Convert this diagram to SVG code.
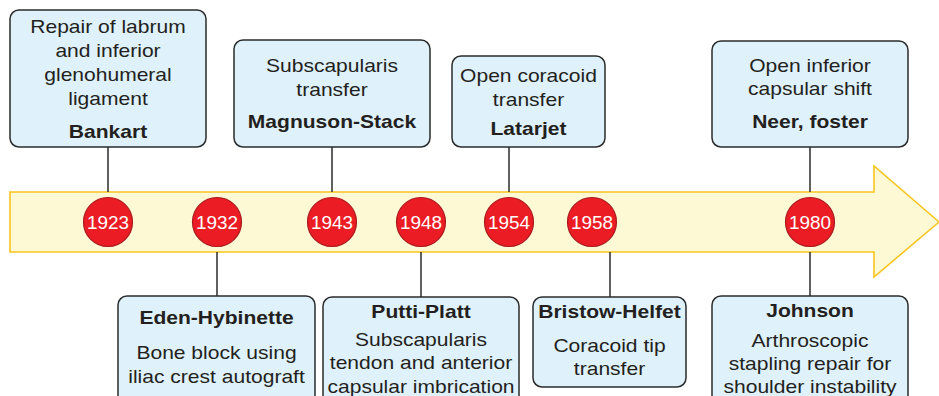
<svg xmlns="http://www.w3.org/2000/svg" width="939" height="396" viewBox="0 0 939 396">
<style>
.box{fill:#dff1fa;stroke:#2b2b2b;stroke-width:1.5}
.t{font-family:"Liberation Sans",Arial,sans-serif;font-size:18.8px;fill:#231f20;text-anchor:middle}
.b{font-weight:bold}
.c{fill:#ec1c24;stroke:#a81a1e;stroke-width:1.2}
.y{font-family:"Liberation Sans",Arial,sans-serif;font-size:18.2px;fill:#ffffff;text-anchor:middle}
.ln{stroke:#2b2b2b;stroke-width:1.5;fill:none}
</style>
<rect width="939" height="396" fill="#ffffff"/>
<g id="arrow">
<path d="M10,192 H874 V166 L939,222 L874,277 V252 H10 Z" fill="#fef9d5" stroke="#f8c51f" stroke-width="1.6"/>
</g>
<g id="connectors">
<line class="ln" x1="108" y1="147" x2="108" y2="192"/>
<line class="ln" x1="217" y1="252" x2="217" y2="296"/>
<line class="ln" x1="332" y1="147" x2="332" y2="192"/>
<line class="ln" x1="421" y1="252" x2="421" y2="297"/>
<line class="ln" x1="509" y1="147" x2="509" y2="192"/>
<line class="ln" x1="610" y1="252" x2="610" y2="297"/>
<line class="ln" x1="810" y1="147" x2="810" y2="192"/>
<line class="ln" x1="810" y1="252" x2="810" y2="296"/>
</g>
<g id="years">
<g id="y1923"><circle class="c" cx="108" cy="222" r="24.5"/><text class="y" transform="translate(108 228.5) scale(1.04 1)">1923</text></g>
<g id="y1932"><circle class="c" cx="217" cy="222" r="24.5"/><text class="y" transform="translate(217 228.5) scale(1.04 1)">1932</text></g>
<g id="y1943"><circle class="c" cx="332" cy="222" r="24.5"/><text class="y" transform="translate(332 228.5) scale(1.04 1)">1943</text></g>
<g id="y1948"><circle class="c" cx="421" cy="222" r="24.5"/><text class="y" transform="translate(421 228.5) scale(1.04 1)">1948</text></g>
<g id="y1954"><circle class="c" cx="509" cy="222" r="24.5"/><text class="y" transform="translate(509 228.5) scale(1.04 1)">1954</text></g>
<g id="y1958"><circle class="c" cx="592" cy="222" r="24.5"/><text class="y" transform="translate(592 228.5) scale(1.04 1)">1958</text></g>
<g id="y1980"><circle class="c" cx="810" cy="222" r="24.5"/><text class="y" transform="translate(810 228.5) scale(1.04 1)">1980</text></g>
</g>
<g id="bankart">
<rect class="box" x="10" y="10" width="196" height="137" rx="9"/>
<g transform="translate(108 0) scale(1.12 1)">
<text class="t" x="0" y="33">Repair of labrum</text>
<text class="t" x="0" y="57">and inferior</text>
<text class="t" x="0" y="81">glenohumeral</text>
<text class="t" x="0" y="105">ligament</text>
<text class="t b" x="0" y="138">Bankart</text>
</g>
</g>
<g id="magnuson">
<rect class="box" x="234" y="40" width="196" height="107" rx="9"/>
<g transform="translate(332 0) scale(1.12 1)">
<text class="t" x="0" y="72">Subscapularis</text>
<text class="t" x="0" y="96">transfer</text>
<text class="t b" x="0" y="128">Magnuson-Stack</text>
</g>
</g>
<g id="latarjet">
<rect class="box" x="452" y="56" width="153" height="91" rx="9"/>
<g transform="translate(528.5 0) scale(1.12 1)">
<text class="t" x="0" y="82">Open coracoid</text>
<text class="t" x="0" y="106">transfer</text>
<text class="t b" x="0" y="135">Latarjet</text>
</g>
</g>
<g id="neer">
<rect class="box" x="712" y="41" width="196" height="106" rx="9"/>
<g transform="translate(810 0) scale(1.12 1)">
<text class="t" x="0" y="72">Open inferior</text>
<text class="t" x="0" y="95">capsular shift</text>
<text class="t b" x="0" y="128">Neer, foster</text>
</g>
</g>
<g id="eden">
<rect class="box" x="118" y="296" width="197" height="120" rx="9"/>
<g transform="translate(216.5 0) scale(1.12 1)">
<text class="t b" x="0" y="324">Eden-Hybinette</text>
<text class="t" x="0" y="359">Bone block using</text>
<text class="t" x="0" y="383">iliac crest autograft</text>
</g>
</g>
<g id="putti">
<rect class="box" x="323" y="297" width="196" height="120" rx="9"/>
<g transform="translate(421 0) scale(1.12 1)">
<text class="t b" x="0" y="318">Putti-Platt</text>
<text class="t" x="0" y="346">Subscapularis</text>
<text class="t" x="0" y="369">tendon and anterior</text>
<text class="t" x="0" y="393">capsular imbrication</text>
</g>
</g>
<g id="bristow">
<rect class="box" x="533" y="297" width="153" height="90" rx="9"/>
<g transform="translate(609.5 0) scale(1.12 1)">
<text class="t b" x="0" y="318">Bristow-Helfet</text>
<text class="t" x="0" y="352">Coracoid tip</text>
<text class="t" x="0" y="375">transfer</text>
</g>
</g>
<g id="johnson">
<rect class="box" x="712" y="296" width="196" height="120" rx="9"/>
<g transform="translate(810 0) scale(1.12 1)">
<text class="t b" x="0" y="317">Johnson</text>
<text class="t" x="0" y="347">Arthroscopic</text>
<text class="t" x="0" y="370">stapling repair for</text>
<text class="t" x="0" y="393">shoulder instability</text>
</g>
</g>
</svg>
